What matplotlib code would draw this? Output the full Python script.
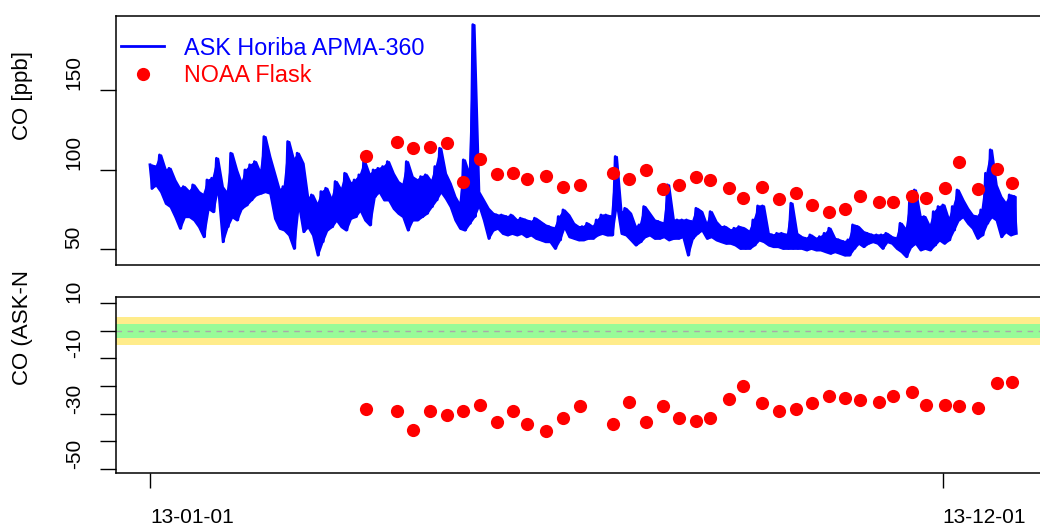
import numpy as np
import pandas as pd
import matplotlib
matplotlib.use("Agg")
import matplotlib.pyplot as plt
import matplotlib.dates as mdates
from matplotlib.lines import Line2D

plt.rcParams["font.family"] = ["Liberation Sans", "DejaVu Sans"]
plt.rcParams["axes.unicode_minus"] = False

# ------------------------------------------------------------
# DATA
# ------------------------------------------------------------
start = pd.Timestamp("2013-01-01")

# ASK Horiba APMA-360: upper / lower envelope of the record, one pair per 2 days
co_hi = [103.0, 101.9, 109.2, 99.8, 100.8, 93.5, 88.3, 89.3, 86.2, 90.4,
         86.2, 84.1, 93.5, 94.6, 107.1, 89.3, 85.2, 110.3, 99.8, 91.4,
         99.8, 103.0, 105.0, 97.7, 120.7, 108.2, 97.7, 87.2, 89.3, 117.6,
         106.1, 110.3, 104.0, 82.0, 84.1, 77.8, 86.2, 88.3, 81.0, 92.5,
         87.2, 97.7, 91.4, 93.5, 96.7, 105.0, 96.7, 99.8, 100.8, 101.9,
         105.0, 97.7, 92.5, 90.4, 105.0, 95.6, 93.5, 95.6, 96.7, 92.5,
         101.9, 113.4, 97.7, 91.4, 83.1, 77.8, 106.1, 96.7, 191.0, 86.2,
         81.0, 75.7, 72.6, 71.5, 71.5, 70.5, 71.5, 68.4, 69.5, 68.4,
         67.4, 69.5, 67.4, 65.3, 64.2, 63.2, 70.5, 74.7, 71.5, 66.3,
         64.2, 64.2, 66.3, 64.2, 68.4, 71.5, 71.5, 70.5, 108.2, 72.6,
         75.7, 72.6, 64.2, 65.3, 76.8, 72.6, 68.4, 67.4, 66.3, 90.4,
         68.4, 68.4, 68.4, 68.4, 67.4, 75.7, 73.6, 65.3, 73.6, 67.4,
         64.2, 64.2, 62.1, 63.2, 64.2, 63.2, 61.1, 68.4, 77.2, 77.2,
         60.0, 59.0, 60.0, 60.0, 59.0, 78.9, 60.0, 57.9, 56.9, 59.0,
         56.9, 57.9, 60.0, 63.2, 56.9, 55.9, 54.8, 55.9, 65.3, 64.2,
         61.1, 60.0, 59.0, 59.0, 59.0, 60.0, 57.9, 56.9, 66.3, 62.1,
         81.0, 87.2, 70.5, 70.5, 64.2, 73.6, 76.8, 77.8, 68.4, 76.8,
         87.2, 81.0, 75.7, 71.5, 70.5, 74.7, 97.7, 112.4, 90.4, 83.1,
         78.9, 84.1, 83.1]
co_lo = [88.3, 90.4, 86.2, 78.9, 76.8, 70.5, 63.2, 70.5, 70.5, 68.4,
         64.2, 57.9, 75.7, 73.6, 89.3, 54.8, 64.2, 70.5, 68.4, 75.7,
         77.8, 81.0, 84.1, 85.2, 86.2, 85.2, 69.5, 63.2, 62.1, 59.0,
         50.6, 78.9, 61.1, 64.2, 59.0, 46.4, 54.8, 62.1, 64.2, 68.4,
         64.2, 62.1, 69.5, 70.5, 74.7, 68.4, 65.3, 83.1, 86.2, 81.0,
         81.0, 75.7, 72.6, 70.5, 62.1, 68.4, 68.4, 70.5, 72.6, 76.8,
         81.0, 86.2, 82.0, 76.8, 68.4, 63.2, 62.1, 66.3, 70.5, 77.8,
         68.4, 56.9, 62.1, 63.2, 60.0, 59.0, 60.0, 59.0, 60.0, 57.9,
         59.0, 56.9, 55.9, 54.8, 54.8, 50.6, 55.9, 64.2, 57.9, 56.9,
         55.9, 55.9, 56.9, 56.9, 59.0, 60.0, 59.0, 59.0, 78.9, 60.0,
         59.0, 55.9, 52.7, 54.8, 57.9, 59.0, 56.9, 56.9, 57.9, 55.9,
         56.9, 56.9, 57.9, 46.4, 56.9, 60.0, 62.1, 56.9, 57.9, 55.9,
         54.8, 53.8, 53.8, 52.7, 50.6, 50.6, 50.6, 52.7, 55.9, 54.8,
         52.7, 51.7, 51.7, 50.6, 50.6, 50.6, 50.6, 50.6, 49.6, 50.6,
         49.6, 49.6, 48.5, 47.5, 48.5, 47.5, 46.4, 46.4, 50.6, 53.8,
         51.7, 53.8, 54.8, 53.8, 50.6, 54.8, 53.8, 50.6, 48.5, 45.4,
         51.7, 53.8, 49.6, 50.6, 49.6, 52.7, 55.9, 53.8, 55.9, 62.1,
         68.4, 70.5, 66.3, 63.2, 56.9, 59.0, 66.3, 70.5, 68.4, 57.9,
         61.1, 59.0, 60.0]

# NOAA flask samples
flask_dates = ["2013-04-02", "2013-04-15", "2013-04-22", "2013-04-29", "2013-05-06",
               "2013-05-13", "2013-05-20", "2013-05-27", "2013-06-03", "2013-06-09",
               "2013-06-17", "2013-06-24", "2013-07-01", "2013-07-15", "2013-07-22",
               "2013-07-29", "2013-08-05", "2013-08-12", "2013-08-19", "2013-08-25",
               "2013-09-02", "2013-09-08", "2013-09-16", "2013-09-23", "2013-09-30",
               "2013-10-07", "2013-10-14", "2013-10-21", "2013-10-27", "2013-11-04",
               "2013-11-10", "2013-11-18", "2013-11-24", "2013-12-02", "2013-12-08",
               "2013-12-16", "2013-12-24", "2013-12-30"]
flask_co = [108.8, 117.5, 113.4, 114.2, 116.5, 92.2, 106.9, 97.1, 97.9, 94.1,
            96.2, 88.9, 90.6, 97.9, 94.1, 99.6, 87.9, 90.4, 95.2, 93.3,
            88.7, 82.2, 88.9, 81.4, 85.1, 78.0, 73.2, 75.1, 83.3, 79.7,
            79.7, 83.3, 82.2, 88.7, 105.0, 87.9, 100.4, 91.6]
diff_co = [-28.4, -29.1, -35.8, -29.1, -30.5, -29.0, -26.9, -33.2, -29.0, -33.8,
           -36.3, -31.5, -27.4, -33.8, -25.8, -33.2, -27.4, -31.5, -32.7, -31.5,
           -24.7, -20.0, -26.3, -29.0, -28.3, -26.2, -23.7, -24.2, -25.2, -25.8,
           -23.7, -22.2, -26.9, -26.9, -27.3, -27.9, -18.9, -18.4]

# ------------------------------------------------------------
# BUILD SERIES
# ------------------------------------------------------------
t_days, co_val = [], []
for i, (h, l) in enumerate(zip(co_hi, co_lo)):
    t_days += [2 * i, 2 * i + 1]
    co_val += [h, l]
t_co = start + pd.to_timedelta(t_days, unit="D")
t_env = start + pd.to_timedelta([2 * i + 0.5 for i in range(len(co_hi))], unit="D")
t_flask = pd.to_datetime(flask_dates)

# ------------------------------------------------------------
# PLOT
# ------------------------------------------------------------
fig = plt.figure(figsize=(10.4, 5.26), dpi=100)
ax1 = fig.add_axes([0.1118, 0.4962, 0.8997, 0.4740])
ax2 = fig.add_axes([0.1118, 0.1002, 0.8997, 0.3346])

xlim = (start - pd.Timedelta(days=14.2), start + pd.Timedelta(days=380))

# top panel
ax1.fill_between(t_env, co_lo, co_hi, facecolor="#0000FF", edgecolor="#0000FF",
                 lw=1.6, zorder=2)
ax1.plot(t_co, co_val, color="#0000FF", lw=2, zorder=2)
ax1.plot(t_flask, flask_co, "o", color="#FF0000", ms=9.5, mec="none", zorder=3)
ax1.set_xlim(xlim)
ax1.set_ylim(40.1, 196.6)
ax1.set_xticks([])
ax1.set_yticks([50, 100, 150])
ax1.set_yticklabels(["50", "100", "150"])

handles = [Line2D([], [], color="#0000FF", lw=2),
           Line2D([], [], ls="none", marker="o", color="#FF0000", ms=9.5, mec="none")]
ax1.legend(handles, ["ASK Horiba APMA-360", "NOAA Flask"], loc="upper left",
           bbox_to_anchor=(0.0, 0.935), frameon=False, fontsize=16.8,
           handlelength=1.85, handletextpad=0.85, labelspacing=0.18,
           borderpad=0.2, borderaxespad=0.0, labelcolor=["#0000FF", "#FF0000"])

# bottom panel
ax2.axhspan(-5, 5, color="#FFEC8B", lw=0, zorder=0)
ax2.axhspan(-2.5, 2.5, color="#98FB98", lw=0, zorder=1)
ax2.axhline(0, color="darkgrey", lw=1, ls=(0, (4, 4)), zorder=2)
ax2.plot(t_flask, diff_co, "o", color="#FF0000", ms=9.5, mec="none", zorder=3)
ax2.set_xlim(xlim)
ax2.set_ylim(-51.7, 12.2)
ax2.set_yticks([10, 0, -10, -20, -30, -40, -50])
ax2.set_yticklabels(["10", "", "-10", "", "-30", "", "-50"])
ax2.set_xticks([pd.Timestamp("2013-01-01"), pd.Timestamp("2013-12-01")])
ax2.xaxis.set_major_formatter(mdates.DateFormatter("%y-%m-%d"))

for ax in (ax1, ax2):
    for s in ax.spines.values():
        s.set_linewidth(1.1)
    ax.tick_params(axis="y", length=11.5, width=1, pad=12, labelsize=15)
    for lbl in ax.get_yticklabels():
        lbl.set_rotation(90)
        lbl.set_va("bottom")
        lbl.set_ha("right")

ax2.tick_params(axis="x", length=11, width=1, pad=14, labelsize=15)
for lbl in ax2.get_xticklabels():
    lbl.set_ha("left")

fig.text(22.5 / 1040, 1 - 140.3 / 526, "CO [ppb]", rotation=90, ha="center",
         va="bottom", fontsize=16)
fig.text(22.5 / 1040, 1 - 385.3 / 526, "CO (ASK-N", rotation=90, ha="center",
         va="bottom", fontsize=16)

fig.savefig("out.png", dpi=100)
